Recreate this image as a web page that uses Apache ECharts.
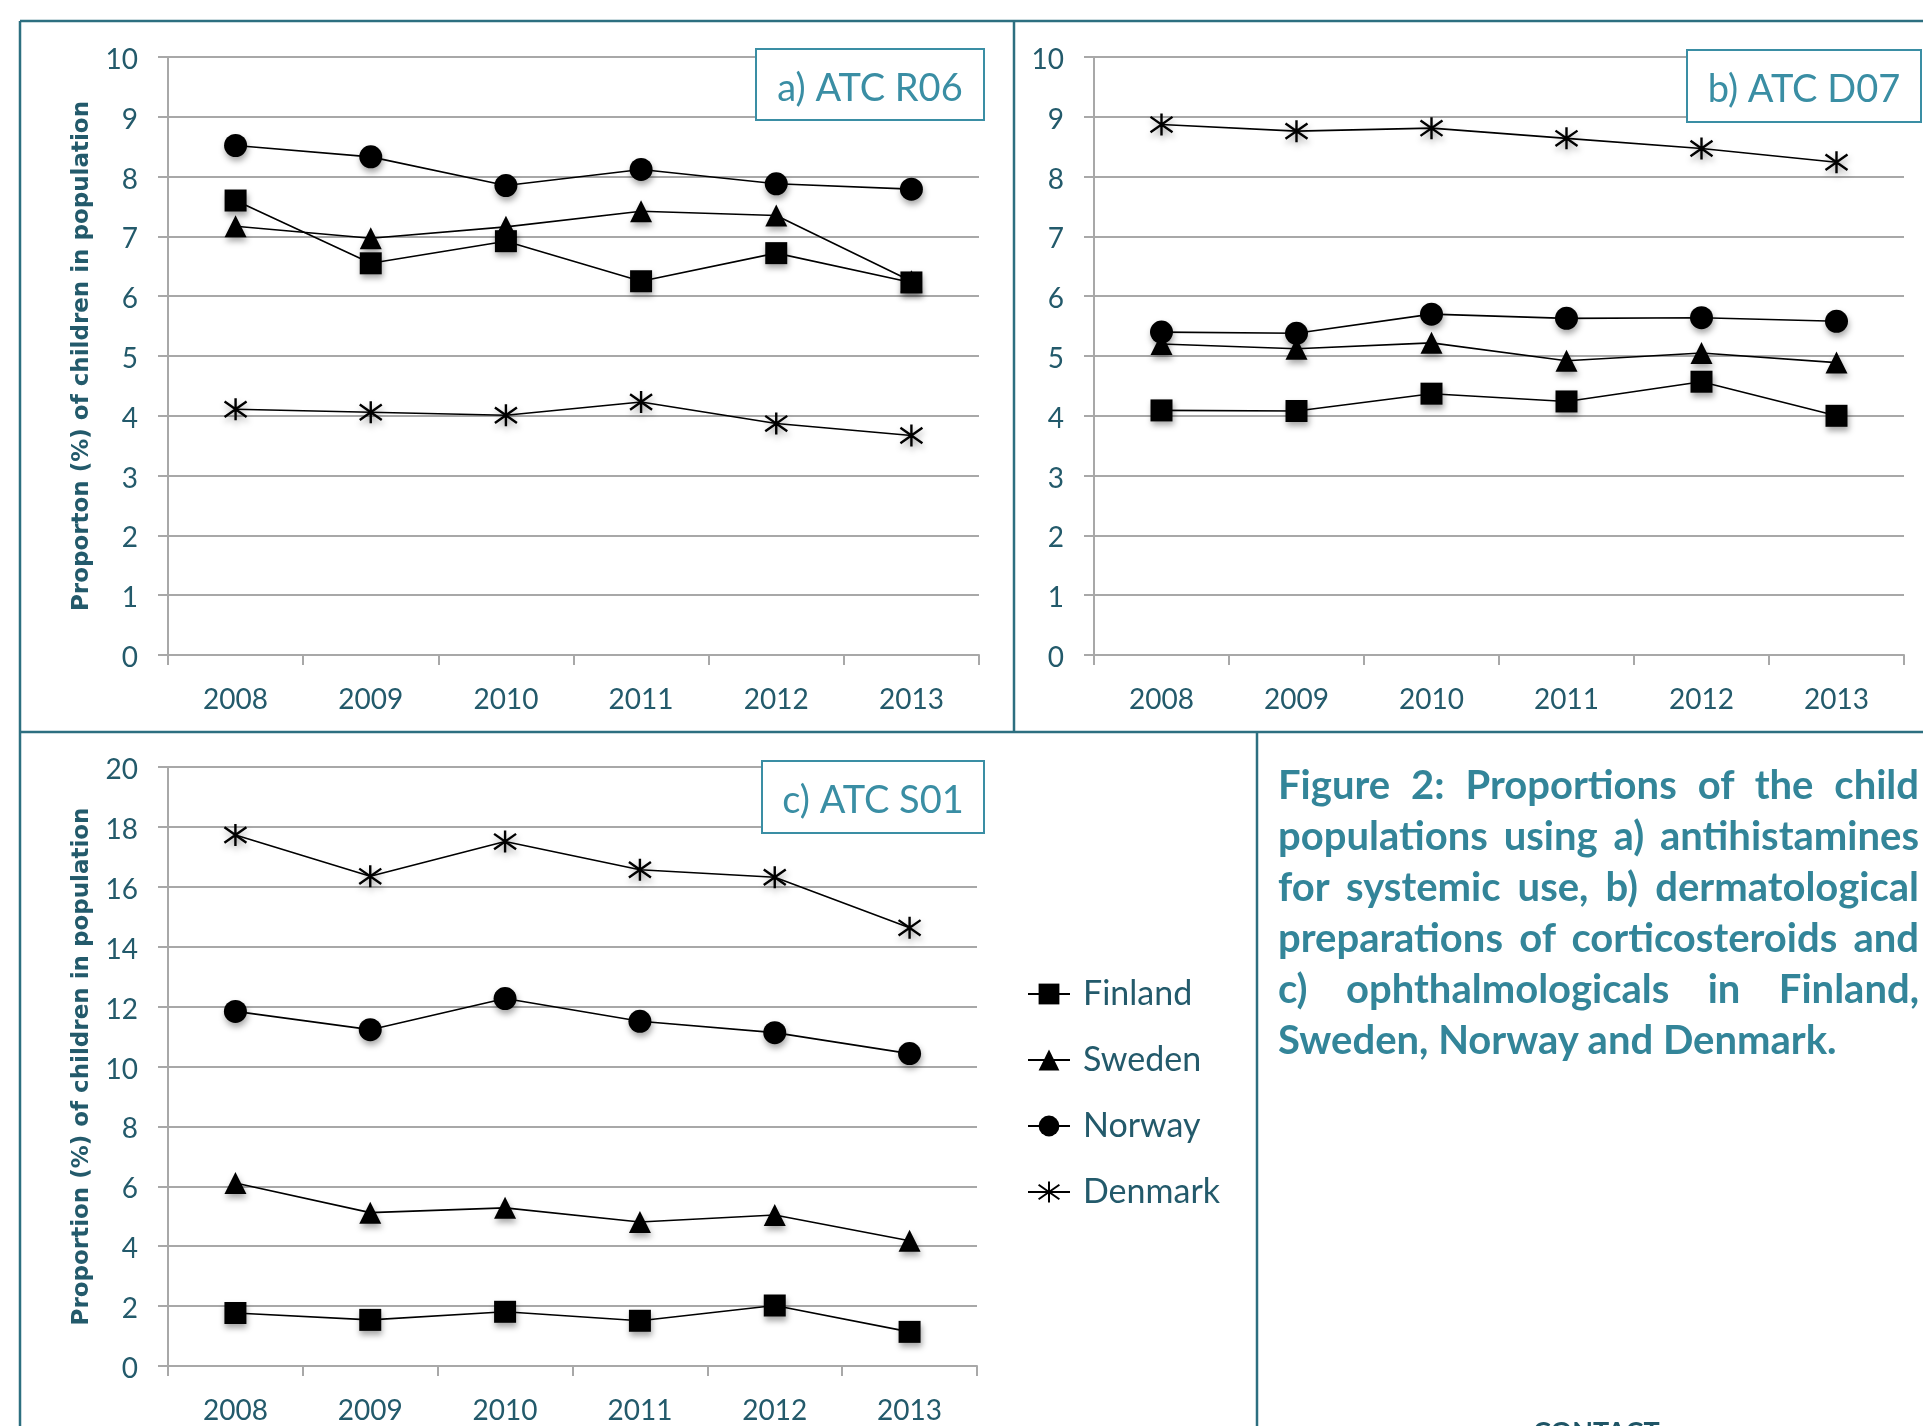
<!DOCTYPE html>
<html>
<head>
<meta charset="utf-8">
<script src="https://cdn.jsdelivr.net/npm/echarts@6/dist/echarts.min.js"></script>
<style>
  html, body { margin: 0; padding: 0; background: #fff; overflow: hidden; }
  #chart { position: absolute; left: 0; top: 0; width: 1923px; height: 1426px; }
  #caption {
    position: absolute; left: 1278px; top: 759px; width: 641px;
    font-family: Lato, "Open Sans", sans-serif; font-weight: bold;
    font-size: 40px; line-height: 51px; color: #338599;
  }
  #caption div { white-space: nowrap; text-align: justify; text-align-last: justify; }
  #caption div.last { text-align: left; text-align-last: left; }
  #contact {
    position: absolute; left: 1533px; top: 1414px;
    font-family: Lato, "Open Sans", sans-serif; font-weight: bold;
    font-size: 27px; color: #1f5566;
  }
</style>
</head>
<body>
<div id="chart"></div>
<div id="caption">
  <div>Figure 2: Proportions of the child</div>
  <div>populations using a) antihistamines</div>
  <div>for systemic use, b) dermatological</div>
  <div>preparations of corticosteroids and</div>
  <div>c) ophthalmologicals in Finland,</div>
  <div class="last">Sweden, Norway and Denmark.</div>
</div>
<div id="contact">CONTACT</div>
<script>
// Years on the x axis
const years = ['2008', '2009', '2010', '2011', '2012', '2013'];
const countries = ['Finland', 'Sweden', 'Norway', 'Denmark'];

// a) ATC R06 – antihistamines for systemic use (% of children)
const r06Finland = [7.60, 6.55, 6.92, 6.25, 6.72, 6.23];
const r06Sweden  = [7.17, 6.97, 7.16, 7.42, 7.35, 6.25];
const r06Norway  = [8.52, 8.33, 7.85, 8.12, 7.88, 7.79];
const r06Denmark = [4.11, 4.06, 4.01, 4.23, 3.87, 3.67];

// b) ATC D07 – dermatological corticosteroids
const d07Finland = [4.09, 4.08, 4.37, 4.24, 4.57, 4.00];
const d07Sweden  = [5.20, 5.12, 5.22, 4.92, 5.05, 4.89];
const d07Norway  = [5.40, 5.38, 5.70, 5.63, 5.64, 5.58];
const d07Denmark = [8.87, 8.76, 8.81, 8.64, 8.47, 8.24];

// c) ATC S01 – ophthalmologicals
const s01Finland = [1.77, 1.54, 1.81, 1.51, 2.02, 1.14];
const s01Sweden  = [6.11, 5.12, 5.28, 4.81, 5.04, 4.18];
const s01Norway  = [11.84, 11.23, 12.27, 11.51, 11.13, 10.43];
const s01Denmark = [17.73, 16.35, 17.51, 16.57, 16.32, 14.63];

const yTicksSmall = [0, 10, 1];   // min, max, interval for panels a and b
const yTicksLarge = [0, 20, 2];   // min, max, interval for panel c

const panels = [
  { title: 'a) ATC R06', data: [r06Finland, r06Sweden, r06Norway, r06Denmark], ticks: yTicksSmall,
    yName: 'Proporton (%) of children in population' },
  { title: 'b) ATC D07', data: [d07Finland, d07Sweden, d07Norway, d07Denmark], ticks: yTicksSmall,
    yName: '' },
  { title: 'c) ATC S01', data: [s01Finland, s01Sweden, s01Norway, s01Denmark], ticks: yTicksLarge,
    yName: 'Proportion (%) of children in population' }
];

const tickColor = '#235a6b';
const frameColor = '#2d6f80';
const accent = '#3a8ea4';
const gridGray = '#a8a8a8';
const FONT = 'Lato, "Open Sans", sans-serif';

const asterisk = 'path://M10,0 L10,20 M2,3 L18,17 M2,17 L18,3';
const symbols = {
  Finland: { symbol: 'rect', size: 22 },
  Sweden: { symbol: 'triangle', size: 22 },
  Norway: { symbol: 'circle', size: 23 },
  Denmark: { symbol: asterisk, size: 22 }
};

const gridBoxes = [
  { left: 168, top: 57, width: 811, height: 598 },
  { left: 1094, top: 57, width: 810, height: 598 },
  { left: 168, top: 767, width: 809, height: 599 }
];

const xAxes = [], yAxes = [], series = [];
panels.forEach((p, i) => {
  xAxes.push({
    type: 'category', gridIndex: i, data: years, boundaryGap: true,
    axisLine: { lineStyle: { color: gridGray, width: 2 } },
    axisTick: { show: true, length: 10, lineStyle: { color: gridGray, width: 2 } },
    axisLabel: { color: tickColor, fontFamily: FONT, fontSize: 28, margin: 31 }
  });
  yAxes.push({
    type: 'value', gridIndex: i, min: p.ticks[0], max: p.ticks[1], interval: p.ticks[2],
    name: p.yName, nameLocation: 'middle', nameGap: 74, nameRotate: 90,
    nameTextStyle: { color: tickColor, fontFamily: '"DejaVu Sans", Verdana, sans-serif', fontWeight: 'bold', fontSize: 23 },
    axisLine: { show: true, lineStyle: { color: gridGray, width: 2 } },
    axisTick: { show: true, length: 10, lineStyle: { color: gridGray, width: 2 } },
    splitLine: { lineStyle: { color: gridGray, width: 2 } },
    axisLabel: {
      color: tickColor, fontFamily: FONT, fontSize: 28, margin: 30,
      formatter: v => '{v|' + v + '}',
      rich: { v: { color: tickColor, fontFamily: FONT, fontSize: 28, padding: [6, 0, 0, 0] } }
    }
  });
  countries.forEach((c, k) => {
    const isAst = c === 'Denmark';
    series.push({
      name: c, type: 'line', xAxisIndex: i, yAxisIndex: i,
      data: p.data[k],
      z: c === 'Finland' ? 4 : 3,
      symbol: symbols[c].symbol, symbolSize: symbols[c].size,
      showAllSymbol: true,
      lineStyle: { color: '#000', width: 1.6 },
      itemStyle: {
        color: '#000', borderColor: '#000', borderWidth: isAst ? 2.4 : 0,
        shadowBlur: 6, shadowOffsetX: 1, shadowOffsetY: 4, shadowColor: 'rgba(0,0,0,0.35)'
      },
      emphasis: { disabled: true },
      animation: false
    });
  });
});

// Frame, dividers and panel title boxes
const graphics = [];
const frameLines = [
  [20, 21, 1923, 21], [20, 21, 20, 1426], [1014, 21, 1014, 732],
  [20, 732, 1923, 732], [1257, 732, 1257, 1426]
];
frameLines.forEach(l => graphics.push({
  type: 'line', shape: { x1: l[0], y1: l[1], x2: l[2], y2: l[3] },
  style: { stroke: frameColor, lineWidth: 2.5 }, z: 10
}));
const titleBoxes = [
  { x: 756, y: 49, w: 228, h: 71 },
  { x: 1687, y: 50, w: 234, h: 72 },
  { x: 762, y: 761, w: 222, h: 72 }
];
titleBoxes.forEach((b, i) => {
  graphics.push({
    type: 'rect', shape: { x: b.x, y: b.y, width: b.w, height: b.h },
    style: { fill: '#fff', stroke: accent, lineWidth: 2 }, z: 10
  });
  graphics.push({
    type: 'text', x: b.x + b.w / 2, y: b.y + b.h / 2 + 4, z: 11,
    style: {
      text: panels[i].title, fill: accent, font: '38px ' + FONT,
      textAlign: 'center', textVerticalAlign: 'middle'
    }
  });
});

const chart = echarts.init(document.getElementById('chart'), null, { renderer: 'canvas' });
chart.setOption({
  animation: false,
  backgroundColor: '#fff',
  grid: gridBoxes.map(g => Object.assign({ containLabel: false }, g)),
  xAxis: xAxes,
  yAxis: yAxes,
  series: series,
  legend: {
    data: countries, orient: 'vertical', left: 1022, top: 969,
    itemWidth: 42, itemHeight: 26, itemGap: 26, selectedMode: false,
    textStyle: { color: tickColor, fontFamily: FONT, fontSize: 34, lineHeight: 40, padding: [0, 0, 0, 8] }
  },
  graphic: graphics
});
</script>
</body>
</html>
